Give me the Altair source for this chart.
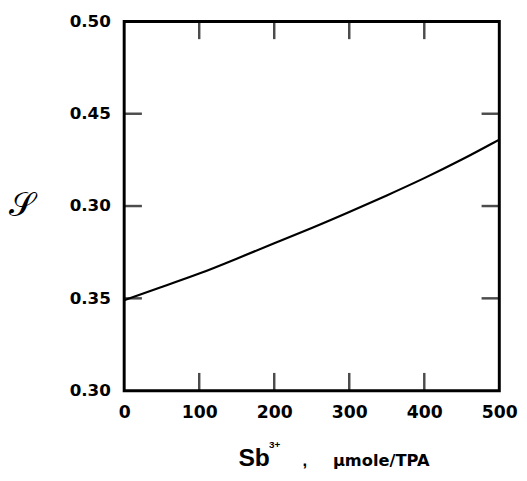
import altair as alt
import pandas as pd

# Curve
sb = [0, 50, 100, 150, 200, 250, 300, 350, 400, 450, 500]
phi = [0.349, 0.3562, 0.3632, 0.3715, 0.3798, 0.3880, 0.3967, 0.4057, 0.4150, 0.4250, 0.4360]

x_ticks = [0, 100, 200, 300, 400, 500]
y_ticks = [0.30, 0.35, 0.40, 0.45, 0.50]
x_inner = [100, 200, 300, 400]
y_inner = [0.35, 0.40, 0.45]

W, H = 381, 375
LFONT = "DejaVu Sans"
FONT = "Liberation Sans"

df = pd.DataFrame({"sb": sb, "phi": phi})
xs = alt.Scale(domain=[0, 500], nice=False)
ys = alt.Scale(domain=[0.30, 0.50], nice=False)

line = alt.Chart(df).mark_line(color="black", strokeWidth=2.2, interpolate="basis").encode(
    x=alt.X("sb:Q", scale=xs, axis=alt.Axis(values=x_ticks, title=None, domain=False, ticks=False,
                                           grid=False, labelFont=LFONT, labelFontWeight="bold",
                                           labelFontSize=17.5, labelColor="black", labelPadding=13,
                                           labelFlush=False)),
    y=alt.Y("phi:Q", scale=ys, axis=alt.Axis(values=y_ticks, domain=False, ticks=False, grid=False,
                                            labelFont=LFONT, labelFontWeight="bold", labelFontSize=17,
                                            labelColor="black", labelPadding=14,
                                            labelExpr="datum.value == 0.4 ? '0.30' : format(datum.value, '.2f')",
                                            title="𝒮", titleAngle=0, titleX=-104, titleY=187,
                                            titleAlign="center", titleBaseline="middle",
                                            titleFont="DejaVu Serif", titleFontSize=34,
                                            titleFontWeight="normal", titleColor="black")),
)

xt = pd.DataFrame({"v": x_inner})
yt = pd.DataFrame({"v": y_inner})
TS = 18
tick_b = alt.Chart(xt).mark_tick(color="black", thickness=2.5, size=TS, orient="vertical", yOffset=-TS / 2).encode(
    x=alt.X("v:Q", scale=xs), y=alt.value(H))
tick_t = alt.Chart(xt).mark_tick(color="black", thickness=2.5, size=TS, orient="vertical", yOffset=TS / 2).encode(
    x=alt.X("v:Q", scale=xs), y=alt.value(0))
tick_l = alt.Chart(yt).mark_tick(color="black", thickness=2.5, size=TS, orient="horizontal", xOffset=TS / 2).encode(
    y=alt.Y("v:Q", scale=ys), x=alt.value(0))
tick_r = alt.Chart(yt).mark_tick(color="black", thickness=2.5, size=TS, orient="horizontal", xOffset=-TS / 2).encode(
    y=alt.Y("v:Q", scale=ys), x=alt.value(W))

# x-axis title pieces
t_sb = alt.Chart().mark_text(text="Sb", font=FONT, fontWeight="bold", fontSize=25, align="left",
                             baseline="alphabetic", color="black").encode(x=alt.value(116), y=alt.value(452))
t_sup = alt.Chart().mark_text(text="3+", font=FONT, fontWeight="bold", fontSize=10, align="left",
                              baseline="alphabetic", color="black").encode(x=alt.value(147), y=alt.value(433))
t_comma = alt.Chart().mark_text(text=",", font=FONT, fontWeight="bold", fontSize=17, align="left",
                                baseline="alphabetic", color="black").encode(x=alt.value(181), y=alt.value(452))
t_unit = alt.Chart().mark_text(text="μmole/TPA", font=LFONT, fontWeight="bold", fontSize=16.5, align="left",
                               baseline="alphabetic", color="black").encode(x=alt.value(212), y=alt.value(452))

chart = alt.layer(line, tick_b, tick_t, tick_l, tick_r, t_sb, t_sup, t_comma, t_unit).properties(
    width=W, height=H,
    background="white",
    autosize=alt.AutoSizeParams(type="none"),
    padding={"left": 118, "top": 10, "right": 20, "bottom": 80},
).configure_view(stroke="black", strokeWidth=3)

chart.save("out.html", embed_options={"renderer": "svg", "actions": False})
